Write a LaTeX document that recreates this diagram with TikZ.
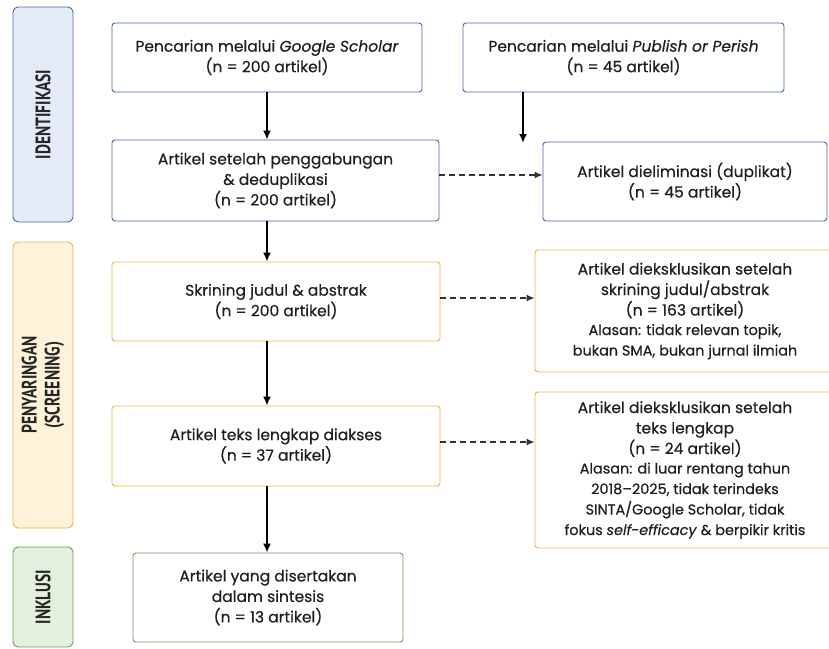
\documentclass[tikz,border=0pt]{standalone}
\usepackage{fontspec}
\setmainfont{Poppins}[FakeBold=0.4]
\newfontfamily\sidefont[FakeStretch=0.74]{PT Sans}
\usetikzlibrary{positioning,arrows.meta,calc}
\tikzset{
    % Style for the stage labels on the left
    stage box/.style={
        rounded corners=5pt,
        line width=0.9pt,
        minimum width=60pt,
        inner sep=0pt
    },
    stage label/.style={
        font=\sidefont\bfseries\fontsize{21}{23}\selectfont,
        text=black!85,
        align=center,
        rotate=90
    },
    % Style for the flow boxes
    flow box/.style={
        draw,
        fill=white,
        rounded corners=3pt,
        line width=0.9pt,
        align=center,
        inner sep=0pt,
        font=\fontsize{15.5}{20.5}\selectfont,
        text=black!88
    },
    % Arrows
    flow arrow/.style={
        -{Latex[length=9pt,width=8pt]},
        line width=1.7pt
    },
    skip arrow/.style={
        -{Latex[length=8pt,width=7pt]},
        line width=1.2pt,
        dash pattern=on 6pt off 4pt,
        color=black!80
    }
}
\definecolor{idLine}{RGB}{74,104,160}
\definecolor{idFill}{RGB}{228,235,247}
\definecolor{scrLine}{RGB}{238,180,70}
\definecolor{scrFill}{RGB}{254,243,218}
\definecolor{incLine}{RGB}{104,160,88}
\definecolor{incFill}{RGB}{228,240,222}
% smaller lines for the reasons
\newcommand{\rs}{\fontsize{14.4}{18.5}\selectfont}

\begin{document}
\begin{tikzpicture}[x=1pt,y=-1pt]

% Canvas
\useasboundingbox (0,0) rectangle (829,648);

% Stage boxes on the left
\node[stage box, draw=idLine, fill=idFill, minimum height=215pt] (stageid) at (43,114.5) {};
\node[stage label] at (stageid) {IDENTIFIKASI};

\node[stage box, draw=scrLine, fill=scrFill, minimum height=286pt] (stagescr) at (43,385) {};
\node[stage label] at (stagescr) {PENYARINGAN\\(SCREENING)};

\node[stage box, draw=incLine, fill=incFill, minimum height=100pt] (stageinc) at (43,597) {};
\node[stage label] at (stageinc) {INKLUSI};

% Identification
\node[flow box, draw=idLine, minimum width=310pt, minimum height=69pt] (gs) at (267,57.5)
    {Pencarian melalui \textit{Google Scholar}\\(n = 200 artikel)};
\node[flow box, draw=idLine, minimum width=321pt, minimum height=69pt] (pop) at (623.5,57.5)
    {Pencarian melalui \textit{Publish or Perish}\\(n = 45 artikel)};
\node[flow box, draw=idLine, minimum width=327pt, minimum height=81pt] (merge) at (275.5,180.5)
    {Artikel setelah penggabungan\\\& deduplikasi\\(n = 200 artikel)};
\node[flow box, draw=idLine, minimum width=284pt, minimum height=79pt] (elim) at (685,181.5)
    {Artikel dieliminasi (duplikat)\\(n = 45 artikel)};

% Screening
\node[flow box, draw=scrLine, minimum width=300pt, minimum height=122pt] (excla) at (685,311)
    {Artikel dieksklusikan setelah\\skrining judul/abstrak\\(n = 163 artikel)\\[-1pt]
     \rs Alasan: tidak relevan topik,\\\rs bukan SMA, bukan jurnal ilmiah};
\node[flow box, draw=scrLine, minimum width=328pt, minimum height=79pt] (screen) at (276,301.5)
    {Skrining judul \& abstrak\\(n = 200 artikel)};
\node[flow box, draw=scrLine, minimum width=328pt, minimum height=80pt] (full) at (276,446)
    {Artikel teks lengkap diakses\\(n = 37 artikel)};
\node[flow box, draw=scrLine, minimum width=300pt, minimum height=156pt] (exclb) at (685,470)
    {Artikel dieksklusikan setelah\\teks lengkap\\(n = 24 artikel)\\[-1pt]
     \rs Alasan: di luar rentang tahun\\\rs 2018--2025, tidak terindeks\\
     \rs SINTA/Google Scholar, tidak\\\rs fokus \textit{self-efficacy} \& berpikir kritis};

% Inclusion
\node[flow box, draw=incLine, minimum width=270pt, minimum height=89pt] (incl) at (268,597.5)
    {Artikel yang disertakan\\dalam sintesis\\(n = 13 artikel)};

% Vertical arrows
\coordinate (popend) at (523,143);
\draw[flow arrow] (gs.south) -- (gs.south |- merge.north);
\draw[flow arrow] (popend |- pop.south) -- (popend);
\draw[flow arrow] (gs.south |- merge.south) -- (gs.south |- screen.north);
\draw[flow arrow] (gs.south |- screen.south) -- (gs.south |- full.north);
\draw[flow arrow] (gs.south |- full.south) -- (gs.south |- incl.north);

% Dashed arrows to the exclusions
\draw[skip arrow] (merge.east |- 0,175) -- (elim.west |- 0,175);
\draw[skip arrow] (screen.east |- 0,298) -- (excla.west |- 0,298);
\draw[skip arrow] (full.east |- 0,442) -- (exclb.west |- 0,442);

\end{tikzpicture}
\end{document}
